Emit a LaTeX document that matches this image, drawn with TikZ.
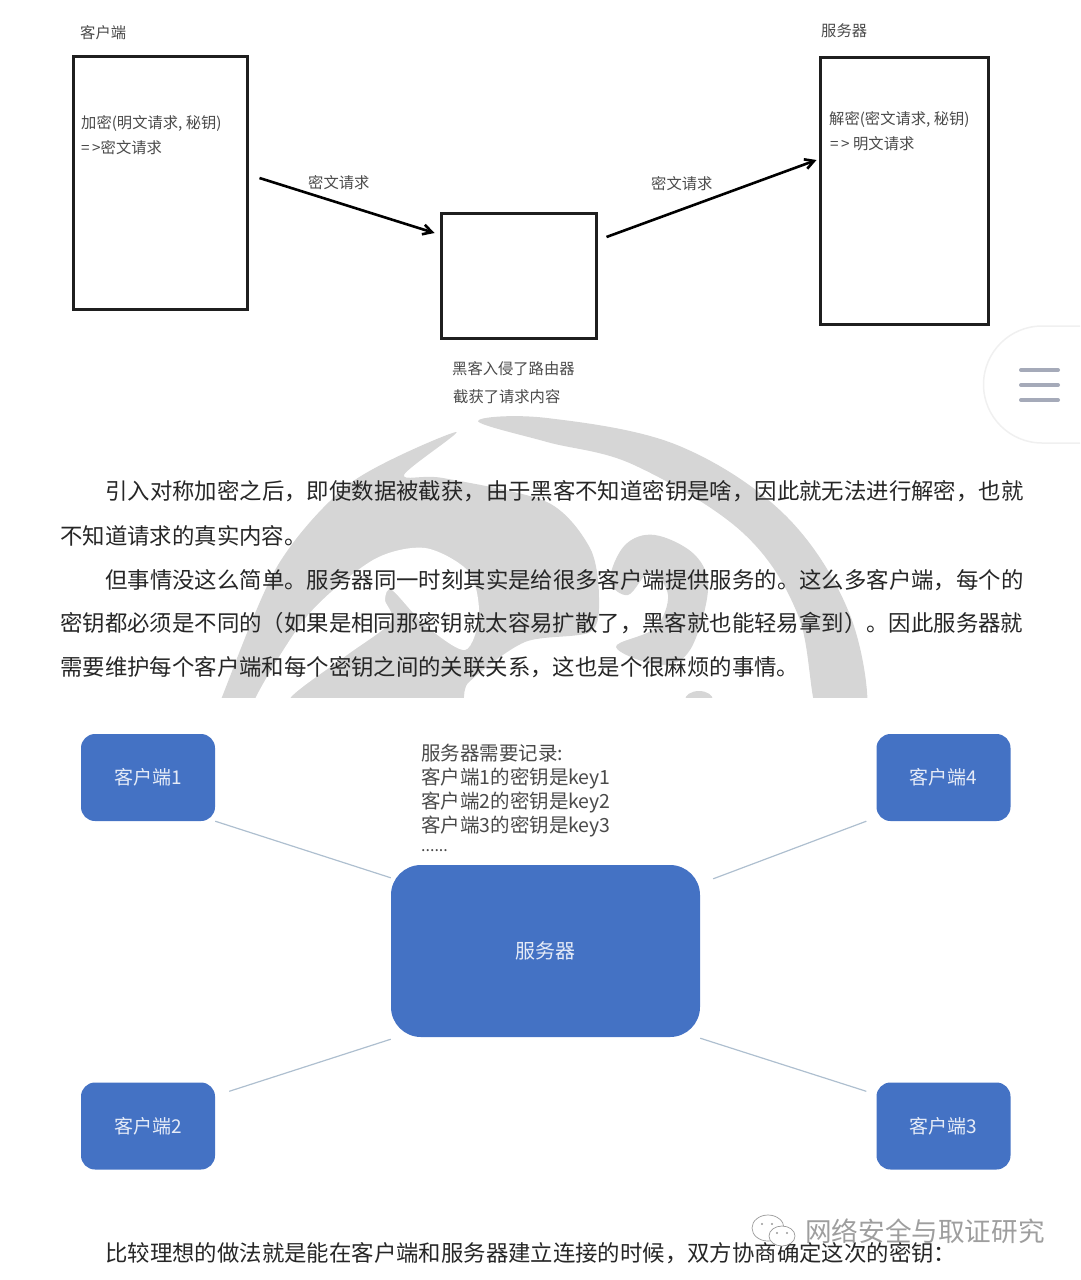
\documentclass[tikz,border=0pt]{standalone}
\usepackage{fontspec}
\setmainfont{Noto Sans CJK SC}
\usetikzlibrary{arrows.meta}
\definecolor{boxblue}{HTML}{4472C4}
\definecolor{linkgrey}{HTML}{AEBFCF}
\definecolor{markgrey}{HTML}{D6D6D6}
\definecolor{sketchtext}{HTML}{4A4A4A}
\definecolor{menugrey}{HTML}{A5AAB9}
\tikzset{
  sketchbox/.style={draw=black!88,line width=3pt,inner sep=0pt},
  sketchlabel/.style={anchor=west,inner sep=0pt,text=sketchtext,font=\fontsize{15.3}{18}\selectfont},
  bodyline/.style={anchor=west,inner sep=0pt,text=black!85,font=\fontsize{22.4}{26}\selectfont},
  bluebox/.style={fill=boxblue,rounded corners=14pt,inner sep=0pt,text=white!86!boxblue,font=\fontsize{19}{22}\selectfont},
  linkline/.style={draw=linkgrey,line width=1.2pt},
  reqarrow/.style={draw=black,line width=2.6pt,-{Straight Barb[length=9pt,width=10pt]}}
}
\begin{document}
\begin{tikzpicture}[x=1pt,y=-1pt]
\useasboundingbox (0,0) rectangle (1080,1280);
\begin{scope}
\clip (0,410) rectangle (1080,697);
\fill[markgrey] plot[smooth cycle,tension=0.6] coordinates {(478,421) (547,418) (677,445) (785,515) (850,615) (866,720) (820,720) (798,615) (742,532) (634,465) (547,442)};
\fill[markgrey] plot[smooth cycle,tension=0.5] coordinates {(456,432) (352,482) (278,565) (222,697) (215,720) (440,720) (469,682) (525,642) (590,632) (599,598) (590,548) (547,502) (443,478) (404,475)};
\fill[white] plot[smooth cycle,tension=0.5] coordinates {(373,560) (425,548) (469,572) (479,615) (465,650) (425,625) (392,590) (385,600) (391,622) (347,655) (291,697) (291,720) (256,720) (256,697) (308,615)};
\fill[markgrey] plot[smooth cycle,tension=0.6] coordinates {(655,535) (695,555) (708,590) (690,650) (660,665) (616,647) (655,628) (668,595) (650,572) (628,595) (610,580) (625,545)};
\fill[markgrey] (699,700) ellipse (14 and 9);
\end{scope}
\node[sketchbox,minimum width=174pt,minimum height=253pt] (client) at (160,182.5) {};
\node[sketchbox,minimum width=155pt,minimum height=125pt] (router) at (518.5,275.5) {};
\node[sketchbox,minimum width=168pt,minimum height=267pt] (server) at (904,190.5) {};
\node[sketchlabel] (clienttitle) at (80,33) {客户端};
\node[sketchlabel] (servertitle) at (821,31) {服务器};
\node[sketchlabel] (encrypt) at (81,123) {加密(明文请求, 秘钥)};
\node[sketchlabel] (cipher) at (81,148) {=\,>密文请求};
\node[sketchlabel] (decrypt) at (829,119) {解密(密文请求, 秘钥)};
\node[sketchlabel] (plain) at (830,144) {=\,> 明文请求};
\node[sketchlabel] (sendlabel) at (308,183) {密文请求};
\node[sketchlabel] (passlabel) at (651,184) {密文请求};
\node[sketchlabel] (hacked) at (452,369) {黑客入侵了路由器};
\node[sketchlabel] (captured) at (453,397) {截获了请求内容};
\draw[reqarrow] ([shift={(11,-4.5)}]client.east) -- ([shift={(-5,-42.5)}]router.west);
\draw[reqarrow] ([shift={(9,-38.5)}]router.east) -- ([shift={(-2,-30.5)}]server.west);
\fill[white,draw=black!6,line width=1.5pt] (1080,326) -- (1042,326) arc (270:90:58.5) -- (1080,443);
\draw[menugrey,line width=4pt,line cap=round] (1021,370) -- (1058,370);
\draw[menugrey,line width=4pt,line cap=round] (1021,385) -- (1058,385);
\draw[menugrey,line width=4pt,line cap=round] (1021,400) -- (1058,400);
\node[bodyline] (para1a) at (105,491) {引入对称加密之后，即使数据被截获，由于黑客不知道密钥是啥，因此就无法进行解密，也就};
\node[bodyline] (para1b) at (60,536) {不知道请求的真实内容。};
\node[bodyline] (para2a) at (105,580) {但事情没这么简单。服务器同一时刻其实是给很多客户端提供服务的。这么多客户端，每个的};
\node[bodyline] (para2b) at (60,623) {密钥都必须是不同的（如果是相同那密钥就太容易扩散了，黑客就也能轻易拿到）。因此服务器就};
\node[bodyline] (para2c) at (60,667) {需要维护每个客户端和每个密钥之间的关联关系，这也是个很麻烦的事情。};
\node[bluebox,minimum width=134pt,minimum height=87pt] (client1) at (148,777.5) {客户端1};
\node[bluebox,minimum width=134pt,minimum height=87pt] (client4) at (943.5,777.5) {客户端4};
\node[bluebox,minimum width=134pt,minimum height=87pt] (client2) at (148,1126) {客户端2};
\node[bluebox,minimum width=134pt,minimum height=87pt] (client3) at (943.5,1126) {客户端3};
\node[bluebox,rounded corners=30pt,minimum width=309pt,minimum height=172pt,font=\fontsize{20}{24}\selectfont] (hub) at (545.5,951) {服务器};
\node[anchor=north west,inner sep=0pt,align=left,text=sketchtext,font=\fontsize{19.5}{24}\selectfont] (keynote) at (421,744) {服务器需要记录:\\客户端1的密钥是key1\\客户端2的密钥是key2\\客户端3的密钥是key3\\[-5pt]{\fontsize{16}{24}\selectfont ......}};
\draw[linkline] (client1.south east) -- ([shift={(0,13)}]hub.north west);
\draw[linkline] ([xshift=-10pt]client4.south west) -- ([shift={(13,14)}]hub.north east);
\draw[linkline] ([shift={(14,9)}]client2.north east) -- ([shift={(0,2)}]hub.south west);
\draw[linkline] ([shift={(-10,9)}]client3.north west) -- ([shift={(0,1)}]hub.south east);
\node[bodyline] (para3) at (105,1253) {比较理想的做法就是能在客户端和服务器建立连接的时候，双方协商确定这次的密钥：};
\draw[black!40,fill=white,line width=0.7pt] (768,1228) ellipse (16 and 13);
\draw[black!40,fill=white,line width=0.7pt] (782,1236) ellipse (13 and 10);
\fill[black!40] (762,1224) circle (1.2) (772,1224) circle (1.2) (777,1233) circle (1.2) (787,1233) circle (1.2);
\node[anchor=west,inner sep=0pt,text=black!38,font=\fontsize{26.6}{30}\selectfont] (brand) at (805,1231) {网络安全与取证研究};
\end{tikzpicture}
\end{document}
